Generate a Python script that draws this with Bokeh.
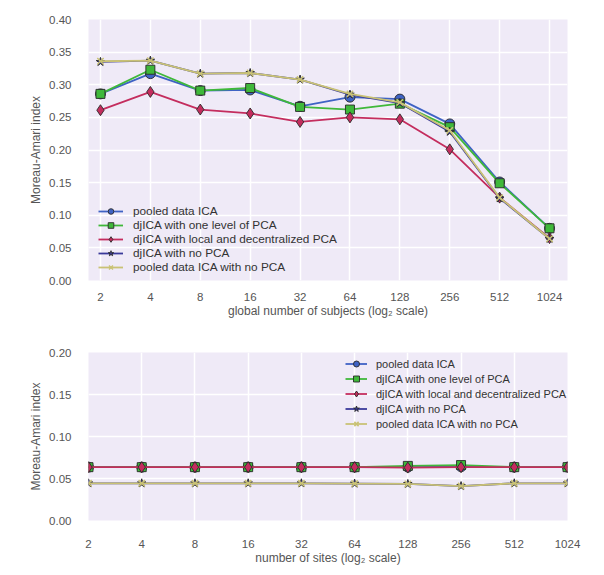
from bokeh.plotting import figure
from bokeh.layouts import column
from bokeh.models import FixedTicker, PrintfTickFormatter, Range1d, Legend
from bokeh.embed import file_html
from bokeh.resources import INLINE

# ---------------- data ----------------
x_vals = [2, 4, 8, 16, 32, 64, 128, 256, 512, 1024]
x_labels = ["2", "4", "8", "16", "32", "64", "128", "256", "512", "1024"]

series_names = [
    "pooled data ICA",
    "djICA with one level of PCA",
    "djICA with local and decentralized PCA",
    "djICA with no PCA",
    "pooled data ICA with no PCA",
]

# top chart: global number of subjects
top_pooled = [0.286, 0.317, 0.291, 0.292, 0.267, 0.281, 0.278, 0.240, 0.151, 0.080]
top_one_level = [0.286, 0.323, 0.291, 0.295, 0.266, 0.262, 0.271, 0.235, 0.149, 0.080]
top_local_dec = [0.261, 0.289, 0.262, 0.256, 0.243, 0.250, 0.247, 0.201, 0.127, 0.065]
top_dj_no_pca = [0.335, 0.337, 0.317, 0.318, 0.308, 0.285, 0.272, 0.228, 0.126, 0.064]
top_pooled_no_pca = [0.336, 0.337, 0.317, 0.318, 0.308, 0.286, 0.273, 0.230, 0.127, 0.064]

# bottom chart: number of sites
bot_pooled = [0.0635, 0.0635, 0.0635, 0.0635, 0.0635, 0.0635, 0.0635, 0.0640, 0.0635, 0.0635]
bot_one_level = [0.0635, 0.0635, 0.0635, 0.0635, 0.0635, 0.0635, 0.0650, 0.0660, 0.0635, 0.0635]
bot_local_dec = [0.0635, 0.0635, 0.0635, 0.0635, 0.0635, 0.0635, 0.0630, 0.0635, 0.0635, 0.0635]
bot_dj_no_pca = [0.0443, 0.0443, 0.0443, 0.0443, 0.0443, 0.0440, 0.0435, 0.0410, 0.0443, 0.0443]
bot_pooled_no_pca = [0.0443, 0.0443, 0.0443, 0.0443, 0.0443, 0.0440, 0.0435, 0.0410, 0.0443, 0.0443]

top_yticks = [0.0, 0.05, 0.10, 0.15, 0.20, 0.25, 0.30, 0.35, 0.40]
bot_yticks = [0.0, 0.05, 0.10, 0.15, 0.20]

# ---------------- styles ----------------
colors = ["#3f63c4", "#3fb83a", "#c42d5e", "#3a3a9a", "#c9c275"]
markers = ["circle", "square", "diamond", "star", "x"]
FONT = "Liberation Sans"
TXT = "#555555"
BG = "#efeaf7"


def make_fig(width, height, xr, yr, yticks, xlabel, borders, series, msizes,
             legend_cfg, x_standoff):
    left, right, top, bottom = borders
    p = figure(width=width, height=height, x_axis_type="log",
               x_range=xr, y_range=yr, output_backend="svg",
               toolbar_location=None, background_fill_color=BG,
               border_fill_color="white",
               min_border_left=left, min_border_right=right,
               min_border_top=top, min_border_bottom=bottom)
    p.outline_line_color = None
    p.xaxis.ticker = FixedTicker(ticks=x_vals, minor_ticks=[])
    p.xaxis.major_label_overrides = {v: l for v, l in zip(x_vals, x_labels)}
    p.yaxis.ticker = FixedTicker(ticks=yticks, minor_ticks=[])
    p.yaxis.formatter = PrintfTickFormatter(format="%.2f")
    for ax in (p.xaxis[0], p.yaxis[0]):
        ax.axis_line_color = None
        ax.major_tick_line_color = None
        ax.minor_tick_line_color = None
        ax.major_label_text_font = FONT
        ax.major_label_text_font_size = "11.5px"
        ax.major_label_text_color = TXT
        ax.axis_label_text_font = FONT
        ax.axis_label_text_font_size = "12px"
        ax.axis_label_text_font_style = "normal"
        ax.axis_label_text_color = TXT
    p.xaxis.major_label_standoff = x_standoff
    p.yaxis.major_label_standoff = 11
    p.xaxis.axis_label_standoff = 0
    p.yaxis.axis_label_standoff = 3
    p.xaxis.axis_label = xlabel
    p.yaxis.axis_label = "Moreau-Amari index"
    p.grid.grid_line_color = "white"
    p.grid.grid_line_width = 1.5
    p.grid.minor_grid_line_color = None

    items = []
    for i, ys in enumerate(series):
        c = colors[i]
        ln = p.line(x_vals, ys, line_color=c, line_width=1.8)
        if markers[i] == "x":
            mk = p.scatter(x_vals, ys, marker="x", size=msizes[i],
                           line_color=c, line_width=1.5)
        else:
            mk = p.scatter(x_vals, ys, marker=markers[i], size=msizes[i],
                           fill_color=c, line_color="#2a2a2a", line_width=0.9)
        items.append((series_names[i], [ln, mk]))

    lx, ly, gw, rh, fs, std = legend_cfg
    leg = Legend(items=items, location=(lx, ly), orientation="vertical",
                 background_fill_alpha=0, border_line_alpha=0,
                 label_text_font=FONT, label_text_font_size=fs,
                 label_text_color="#333333", glyph_width=gw,
                 glyph_height=rh, label_height=rh, spacing=0,
                 label_standoff=std, padding=5, margin=0)
    p.add_layout(leg, "center")
    return p


top = make_fig(
    596, 326,
    Range1d(2 ** 0.76, 2 ** 10.36), Range1d(0.0, 0.40), top_yticks,
    "global number of subjects (log\u2082 scale)",
    (88, 29, 19, 46),
    [top_pooled, top_one_level, top_local_dec, top_dj_no_pca, top_pooled_no_pca],
    [10, 9, 11, 9, 9],
    (5, 1, 25, 14, "11.8px", 10),
    6,
)

bottom = make_fig(
    596, 241,
    Range1d(2, 1024), Range1d(0.0, 0.20), bot_yticks,
    "number of sites (log\u2082 scale)",
    (82, 21, 26, 42),
    [bot_pooled, bot_one_level, bot_local_dec, bot_dj_no_pca, bot_pooled_no_pca],
    [10, 9, 11, 9, 9],
    (252, 84, 22, 15, "11px", 9),
    13,
)

layout = column(top, bottom, spacing=0)
open("out.html", "w").write(file_html(layout, INLINE))
